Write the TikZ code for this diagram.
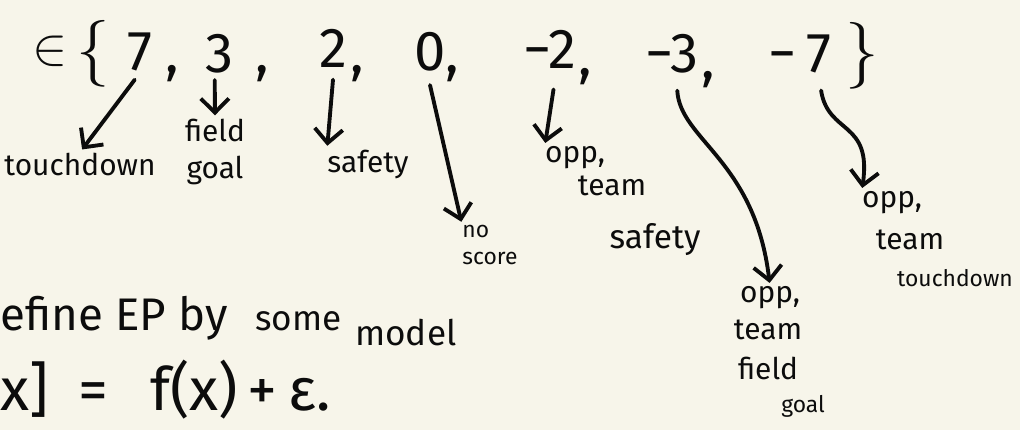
\RequirePackage{fix-cm}
\documentclass[tikz,border=0pt]{standalone}
\usepackage{fontspec}
\setmainfont{Fira Sans}
\usetikzlibrary{arrows.meta}
\definecolor{paper}{RGB}{247,245,234}
\definecolor{ink}{RGB}{12,12,12}
\tikzset{
 big/.style={font=\fontsize{32}{36}\selectfont, inner sep=0pt, anchor=base, text=ink},
 brace/.style={font=\fontsize{38}{42}\selectfont, inner sep=0pt, anchor=base, text=ink},
 lab/.style={font=\fontsize{17}{21}\selectfont, inner sep=0pt, text=ink},
 smalllab/.style={font=\fontsize{13}{15}\selectfont, inner sep=0pt, text=ink},
 note/.style={font=\fontsize{26}{30}\selectfont, inner sep=0pt, anchor=base west, text=ink},
 pen/.style={draw=ink, line width=2.2pt, line cap=round, line join=round, shorten >=2pt, -{Straight Barb[length=8pt,width=16pt]}},
}
\begin{document}
\begin{tikzpicture}[x=0.02cm,y=-0.02cm]
\fill[paper] (0,0) rectangle (1020,430);
\useasboundingbox (0,0) rectangle (1020,430);
% the set
\node[big, font=\fontsize{30}{34}\selectfont] (in) at (50,64) {$\in$};
\node[brace] (ob) at (93,70) {$\{$};
\node[big] (n7) at (140,70) {7};
\node[big] (c7) at (172,72) {,};
\node[big] (n3) at (220,72) {3};
\node[big] (c3) at (262,72) {,};
\node[big] (n2) at (333,67) {2};
\node[big] (c2) at (357,72) {,};
\node[big] (n0) at (430,70) {0};
\node[big] (c0) at (452,72) {,};
\node[big] (nm2) at (550,68) {−2};
\node[big] (cm2) at (585,75) {,};
\node[big] (nm3) at (672,72) {−3};
\node[big] (cm3) at (708,78) {,};
\node[big] (nm7) at (800,72) {−\,7};
\node[brace] (cb) at (862,72) {$\}$};
% labels
\node[lab] (td) at (80,164) {touchdown};
\node[lab, align=center] (fg) at (215,152) {field\\goal};
\node[lab] (sf) at (368,164) {safety};
\node[smalllab, align=left] (ns) at (490,245) {no\\score};
\node[lab] (o2) at (575,158) {opp,};
\node[lab] (t2) at (612,186) {team};
\node[lab, font=\fontsize{19}{23}\selectfont] (s2) at (655,240) {safety};
\node[lab] (o3) at (770,298) {opp,};
\node[lab] (t3) at (768,330) {team};
\node[lab] (f3) at (768,368) {field};
\node[smalllab] (g3) at (803,406) {goal};
\node[lab] (o7) at (892,203) {opp,};
\node[lab] (t7) at (910,240) {team};
\node[smalllab] (d7) at (955,278) {touchdown};
% arrows
\draw[pen] ([xshift=-3pt,yshift=-5pt]n7.south) -- (td.north);
\draw[pen] ([xshift=-3pt,yshift=-4pt]n3.south) -- (fg.north);
\draw[pen] ([yshift=-7pt]n2.south) -- (sf.north west);
\draw[pen] ([yshift=-8pt]n0.south) -- (ns.north west);
\draw[pen] ([xshift=2pt,yshift=-12pt]nm2.south) -- (o2.north west);
\draw[pen] ([xshift=3pt,yshift=-10pt]nm3.south) .. controls (680,140) and (755,160) .. (o3.north);
\draw[pen] ([xshift=12pt,yshift=-10pt]nm7.south) .. controls (828,135) and (872,120) .. (o7.north west);
% notes
\node[note] (l1) at (0,330) {efine EP by};
\node[note, font=\fontsize{20}{24}\selectfont] (l2) at (255,330) {some};
\node[note, font=\fontsize{20}{24}\selectfont] (l3) at (355,345) {model};
\node[note, font=\fontsize{34}{38}\selectfont] (l4) at (0,410) {x]\hspace{0.5em}=\hspace{0.7em}f(x)\hspace{0.15em}+\hspace{0.2em}ε.};
\end{tikzpicture}
\end{document}
